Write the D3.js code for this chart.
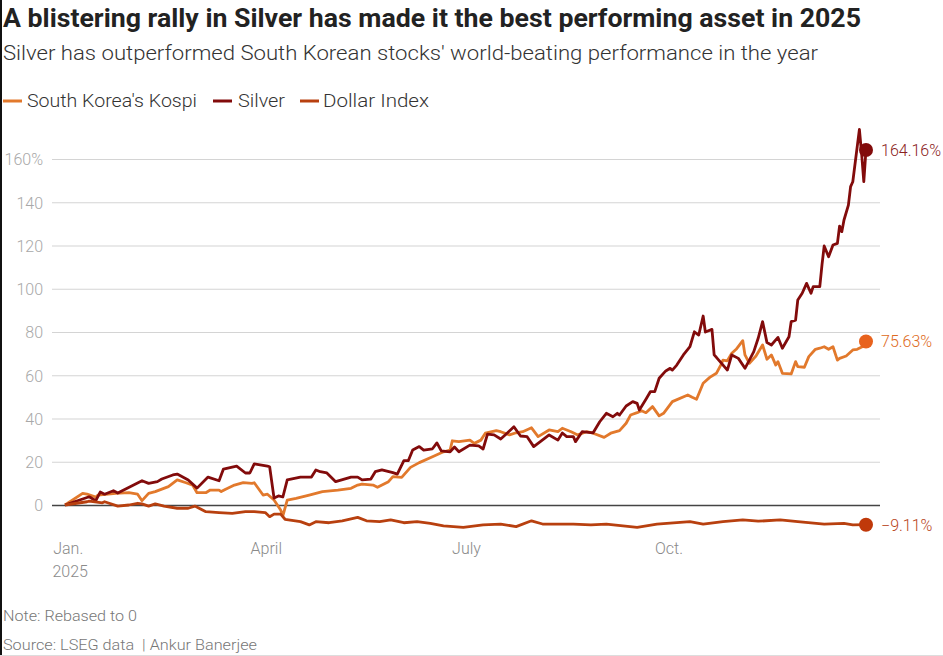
<!DOCTYPE html>
<html>
<head>
<meta charset="utf-8">
<script src="https://cdn.jsdelivr.net/npm/d3@7"></script>
<style>
  body { margin: 0; background: #fff; }
  svg text { font-family: Roboto, "Noto Sans", sans-serif; white-space: pre; }
</style>
</head>
<body>
<div id="chart"></div>
<script>
// values: [days since 31 Dec 2024, % change]
const kospi = [[0,0],[8,5.4],[10,5.0],[14,3.7],[15,4.6],[23,5.4],[29,5.7],[33,5.0],[35,2.0],[38,5.4],[41,6.2],[47,8.5],[51,11.6],[55,10.3],[58,9.2],[60,5.7],[64,5.7],[66,6.9],[70,6.9],[71,6.2],[73,7.3],[77,9.2],[81,10.3],[85,10.0],[86,10.3],[90,4.6],[92,5.0],[95,2.3],[98,-2.3],[99,-5.0],[101,2.3],[105,3.1],[111,4.6],[117,6.2],[124,6.9],[130,7.7],[133,9.2],[135,9.7],[140,9.2],[142,8.2],[147,10.8],[149,13.1],[153,12.8],[157,17.4],[161,19.6],[167,22.3],[172,24.6],[175,25.4],[176,29.7],[179,29.3],[184,30.0],[186,28.5],[189,30.0],[191,33.2],[196,34.4],[198,33.9],[202,32.4],[205,33.4],[208,33.9],[212,35.7],[215,31.6],[220,34.7],[224,33.9],[226,35.5],[230,33.9],[233,32.4],[237,33.9],[240,33.2],[245,31.3],[248,33.2],[252,34.4],[255,37.8],[257,41.6],[260,42.7],[262,43.6],[264,42.7],[267,45.5],[270,41.2],[272,42.4],[276,47.8],[283,50.9],[285,49.8],[287,48.9],[290,56.3],[293,59.0],[296,60.9],[298,64.7],[299,67.0],[301,66.7],[303,70.2],[305,72.0],[308,76.0],[309,69.4],[311,65.5],[314,68.9],[317,74.0],[319,67.4],[321,69.4],[323,64.7],[324,66.3],[326,60.9],[330,60.6],[332,66.3],[333,64.0],[336,63.7],[338,68.6],[341,72.0],[343,72.5],[345,73.2],[347,72.0],[349,73.2],[351,67.0],[352,67.8],[355,68.9],[358,71.7],[360,72.0],[363,73.5],[364,75.63]];

const silver = [[0,0],[11,3.8],[14,2.0],[16,6.0],[18,5.0],[22,6.6],[24,5.5],[35,11.2],[38,10.0],[42,10.8],[44,12.0],[49,13.9],[51,14.3],[56,11.6],[60,7.8],[65,12.9],[70,11.2],[72,16.6],[78,18.0],[82,14.8],[84,14.8],[86,19.0],[92,18.0],[93,17.7],[95,3.2],[97,4.2],[99,3.7],[101,11.6],[107,12.9],[112,12.9],[114,16.2],[116,15.4],[119,14.8],[123,10.8],[130,12.9],[133,12.9],[135,11.6],[139,12.0],[141,15.4],[144,16.2],[149,15.0],[151,14.3],[154,20.5],[156,20.5],[158,25.4],[161,27.0],[163,25.4],[167,26.0],[169,28.7],[171,25.0],[175,24.6],[177,26.8],[179,24.6],[184,27.7],[188,27.3],[190,25.9],[192,32.8],[195,32.4],[198,30.5],[201,33.3],[204,36.2],[207,31.9],[210,31.6],[213,27.0],[216,29.3],[220,32.4],[224,30.0],[226,33.3],[228,31.6],[231,31.6],[232,29.3],[235,33.9],[240,33.4],[243,38.5],[246,42.4],[249,40.8],[251,42.4],[252,41.6],[255,45.8],[258,47.8],[260,47.0],[261,43.9],[264,48.9],[266,52.4],[268,52.4],[270,58.6],[273,62.0],[275,63.2],[276,62.4],[278,64.7],[281,69.4],[284,73.2],[286,80.1],[288,78.6],[290,87.4],[291,80.0],[294,81.2],[295,69.4],[296,68.3],[301,62.4],[303,69.4],[306,67.8],[309,63.2],[311,67.0],[313,70.9],[315,77.1],[317,84.8],[319,75.1],[321,74.0],[324,77.5],[326,72.5],[329,77.8],[330,84.8],[332,85.5],[333,94.8],[335,97.9],[337,102.5],[339,97.9],[340,101.0],[343,101.0],[344,111.0],[345,119.8],[347,114.8],[349,120.2],[351,121.0],[352,129.0],[353,126.4],[354,131.8],[356,138.7],[357,147.2],[358,149.5],[361,173.7],[362,162.6],[363,149.5],[364,164.16]];

const dollar = [[0,0],[10,1.5],[11,1.8],[17,1.0],[18,1.5],[24,-0.5],[29,0.0],[33,0.8],[35,0.5],[38,-0.5],[41,0.5],[45,-0.5],[51,-1.5],[56,-1.5],[59,-0.5],[64,-3.1],[70,-3.5],[76,-3.9],[82,-3.1],[86,-3.1],[91,-3.5],[93,-5.4],[95,-4.2],[98,-4.2],[100,-6.6],[107,-7.7],[111,-9.2],[114,-7.7],[120,-8.2],[126,-7.3],[133,-5.7],[137,-7.3],[143,-7.7],[148,-6.9],[154,-8.2],[160,-7.7],[166,-8.5],[172,-9.7],[181,-10.3],[190,-9.2],[198,-8.8],[205,-10.0],[212,-7.3],[217,-8.8],[231,-8.8],[239,-9.2],[246,-8.8],[260,-10.3],[269,-8.8],[284,-7.7],[290,-8.8],[299,-7.7],[308,-6.9],[315,-7.5],[325,-6.9],[333,-7.7],[345,-8.8],[354,-8.5],[358,-9.2],[364,-9.11]];

const seriesNames = ["South Korea's Kospi", "Silver", "Dollar Index"];
const endLabels = ["75.63%", "164.16%", "\u22129.11%"];
const yTicks = [0, 20, 40, 60, 80, 100, 120, 140, 160];
const xTicks = [["Jan.", "2025", "2025-01-01"], ["April", "", "2025-04-01"], ["July", "", "2025-07-01"], ["Oct.", "", "2025-10-01"]];

const lineColors = ["#e2792c", "#820b0b", "#b8400f"];
const dotColors = ["#e8621d", "#820b0b", "#c0390a"];
const textColors = ["#de6a22", "#8a2020", "#b8441a"];

const W = 943, H = 656;
const start = new Date(2024, 11, 31);
const toDate = d => d3.timeDay.offset(start, d);

const svg = d3.select("#chart").append("svg")
  .attr("width", W)
  .attr("height", H);

const x = d3.scaleTime()
  .domain([start, toDate(364)])
  .range([65, 866]);

const y = d3.scaleLinear()
  .domain([0, 160])
  .range([505, 159]);

// frame bits seen in the screenshot
svg.append("rect").attr("x", 0).attr("y", 0).attr("width", 2).attr("height", H).attr("fill", "#111");
svg.append("rect").attr("x", 0).attr("y", H - 1).attr("width", W).attr("height", 1).attr("fill", "#ddd");

function fitText(sel, len) {
  sel.attr("textLength", len).attr("lengthAdjust", "spacingAndGlyphs");
}

svg.append("text")
  .attr("x", 3).attr("y", 27)
  .style("font-size", "25px").style("font-weight", 700).style("fill", "#222")
  .text("A blistering rally in Silver has made it the best performing asset in 2025")
  .call(fitText, 858);

svg.append("text")
  .attr("x", 3).attr("y", 60)
  .style("font-size", "21px").style("font-weight", 300).style("fill", "#333")
  .text("Silver has outperformed South Korean stocks' world-beating performance in the year")
  .call(fitText, 815);

// legend
const legendX = [[3, 27, 170], [213, 238, 47], [300, 323, 106]];
seriesNames.forEach((name, i) => {
  svg.append("line")
    .attr("x1", legendX[i][0]).attr("x2", legendX[i][0] + 19)
    .attr("y1", 101).attr("y2", 101)
    .attr("stroke", lineColors[i]).attr("stroke-width", 3);
  svg.append("text")
    .attr("x", legendX[i][1]).attr("y", 107)
    .style("font-size", "18px").style("font-weight", 300).style("fill", "#333")
    .text(name)
    .call(fitText, legendX[i][2]);
});

// gridlines + y labels
const yAxis = svg.append("g")
  .attr("transform", "translate(52,0)")
  .call(d3.axisLeft(y).tickValues(yTicks).tickSize(-828).tickPadding(9)
    .tickFormat(d => d === 160 ? d + "%" : d));
yAxis.select(".domain").remove();
yAxis.selectAll(".tick line")
  .attr("stroke", d => d === 0 ? "#444" : "#d4d4d4")
  .attr("stroke-width", d => d === 0 ? 1.3 : 1.2);
yAxis.selectAll(".tick text")
  .attr("dy", "0.36em")
  .style("font-size", "16px").style("font-weight", 300).style("fill", "#a8a8a8")
  .style("font-family", "Roboto, sans-serif");

// x labels
const xg = svg.append("g");
xTicks.forEach(t => {
  const px = x(d3.timeParse("%Y-%m-%d")(t[2]));
  xg.append("text")
    .attr("x", px + 1).attr("y", 554)
    .attr("text-anchor", "middle")
    .style("font-size", "16px").style("font-weight", 300).style("fill", "#8a8a8a")
    .text(t[0]);
  if (t[1]) {
    xg.append("text")
      .attr("x", px + 3).attr("y", 577)
      .attr("text-anchor", "middle")
      .style("font-size", "16px").style("font-weight", 300).style("fill", "#8a8a8a")
      .text(t[1]);
  }
});

const line = d3.line()
  .x(d => x(toDate(d[0])))
  .y(d => y(d[1]));

const all = [kospi, silver, dollar];
all.forEach((s, i) => {
  svg.append("path")
    .datum(s)
    .attr("fill", "none")
    .attr("stroke", lineColors[i])
    .attr("stroke-width", 2.8)
    .attr("stroke-linejoin", "round")
    .attr("d", line);
});

all.forEach((s, i) => {
  const last = s[s.length - 1];
  svg.append("circle")
    .attr("cx", x(toDate(last[0]))).attr("cy", y(last[1]))
    .attr("r", 7)
    .attr("fill", dotColors[i]);
  svg.append("text")
    .attr("x", 881).attr("y", y(last[1]) + 6)
    .style("font-size", "16px").style("font-weight", 300).style("fill", textColors[i])
    .text(endLabels[i]);
});

// footer
svg.append("text")
  .attr("x", 3).attr("y", 621)
  .style("font-size", "15px").style("font-weight", 300).style("fill", "#777")
  .text("Note: Rebased to 0")
  .call(fitText, 134);
svg.append("text")
  .attr("x", 3).attr("y", 650)
  .style("font-size", "15px").style("font-weight", 300).style("fill", "#777")
  .text("Source: LSEG data  | Ankur Banerjee")
  .call(fitText, 254);
</script>
</body>
</html>
